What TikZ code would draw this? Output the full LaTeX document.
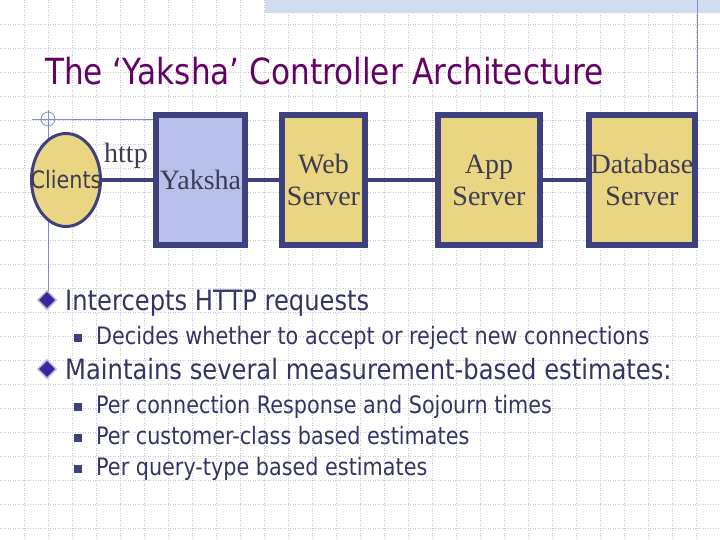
\documentclass[tikz,border=0pt]{standalone}
\usepackage{fontspec}
\usetikzlibrary{shapes.geometric,positioning}
\newfontfamily\tah{DejaVu Sans}[FakeStretch=0.865]
\newfontfamily\tms{Liberation Serif}
\definecolor{bc}{RGB}{62,64,128}
\definecolor{yc}{RGB}{233,213,130}
\definecolor{pc}{RGB}{184,192,234}
\definecolor{tc}{RGB}{51,51,102}
\definecolor{hc}{RGB}{102,0,102}
\definecolor{sc}{RGB}{60,60,82}
\definecolor{dc}{RGB}{58,36,160}
\definecolor{gc}{RGB}{200,200,212}
\definecolor{lc}{RGB}{130,140,195}
\definecolor{kc}{RGB}{210,220,240}
\tikzset{srv/.style={draw=bc,fill=yc,line width=6pt,inner sep=0pt,minimum width=83pt,minimum height=130pt,align=center,text=sc,font=\tms\fontsize{28}{32}\selectfont},
 ctl/.style={srv,fill=pc,minimum width=89pt},
 cli/.style={ellipse,draw=bc,fill=yc,line width=3pt,inner xsep=-12pt,inner ysep=0pt,minimum width=69pt,minimum height=93pt,text=sc,font=\tah\fontsize{24}{28}\selectfont},
 wire/.style={draw=bc,line width=4pt},deco/.style={draw=lc,line width=.8pt},
 gline/.style={draw=gc,dotted,line width=.5pt},
 dia/.style={diamond,fill=dc,draw=lc!60,line width=1.5pt,inner sep=0pt,minimum size=19pt},
 sq/.style={fill=bc,inner sep=0pt,minimum size=8pt},
 h1/.style={anchor=base west,inner sep=0pt,text=tc,font=\tah\fontsize{28}{32}\selectfont},
 h2/.style={h1,font=\tah\fontsize{24}{28}\selectfont}}
\begin{document}
\begin{tikzpicture}[x=1pt,y=-1pt]
\useasboundingbox (0,0) rectangle (720,540);
% slide background
\foreach \i in {1,...,29} \draw[gline] (24*\i,0)--(24*\i,540);
\foreach \j in {1,...,22} \draw[gline] (0,24*\j)--(720,24*\j);
\fill[kc] (265,0) rectangle (720,13);
\draw[deco] (697,0)--(697,120);\draw[deco] (32,119)--(160,119);\draw[deco] (48,110)--(48,292);
\draw[deco] (48,119) circle (7);
\node[h1,text=hc,font=\tah\fontsize{36}{40}\selectfont] (ti) at (45,85) {The ‘Yaksha’ Controller Architecture};
% tiers
\node[cli] (cl) at (66,180) {Clients};
\node[ctl] (ya) at (200.5,180) {Yaksha};
\node[srv] (ws) at (323.5,180) {Web\\Server};
\node[srv,minimum width=102pt] (as) at (489,180) {App\\Server};
\node[srv,minimum width=106pt] (db) at (642,180) {Database\\Server};
\draw[wire] (cl)--(ya);\draw[wire] (ya)--(ws);\draw[wire] (ws)--(as);\draw[wire] (as)--(db);
\node[h1,text=sc,font=\tms\fontsize{28}{32}\selectfont] (hp) at (104,163) {http};
% bullets
\node[dia] (b1) at (47,300) {};\node[h1] (t1) at (65,310) {Intercepts HTTP requests};
\node[sq] (s1) at (78,338) {};\node[h2] (u1) at (96,344) {Decides whether to accept or reject new connections};
\node[dia] (b2) at (47,369) {};\node[h1] (t2) at (65,379) {Maintains several measurement-based estimates:};
\node[sq] (s2) at (78,407) {};\node[h2] (u2) at (96,413) {Per connection Response and Sojourn times};
\node[sq] (s3) at (78,438) {};\node[h2] (u3) at (96,444) {Per customer-class based estimates};
\node[sq] (s4) at (78,469) {};\node[h2] (u4) at (96,475) {Per query-type based estimates};
\end{tikzpicture}
\end{document}
